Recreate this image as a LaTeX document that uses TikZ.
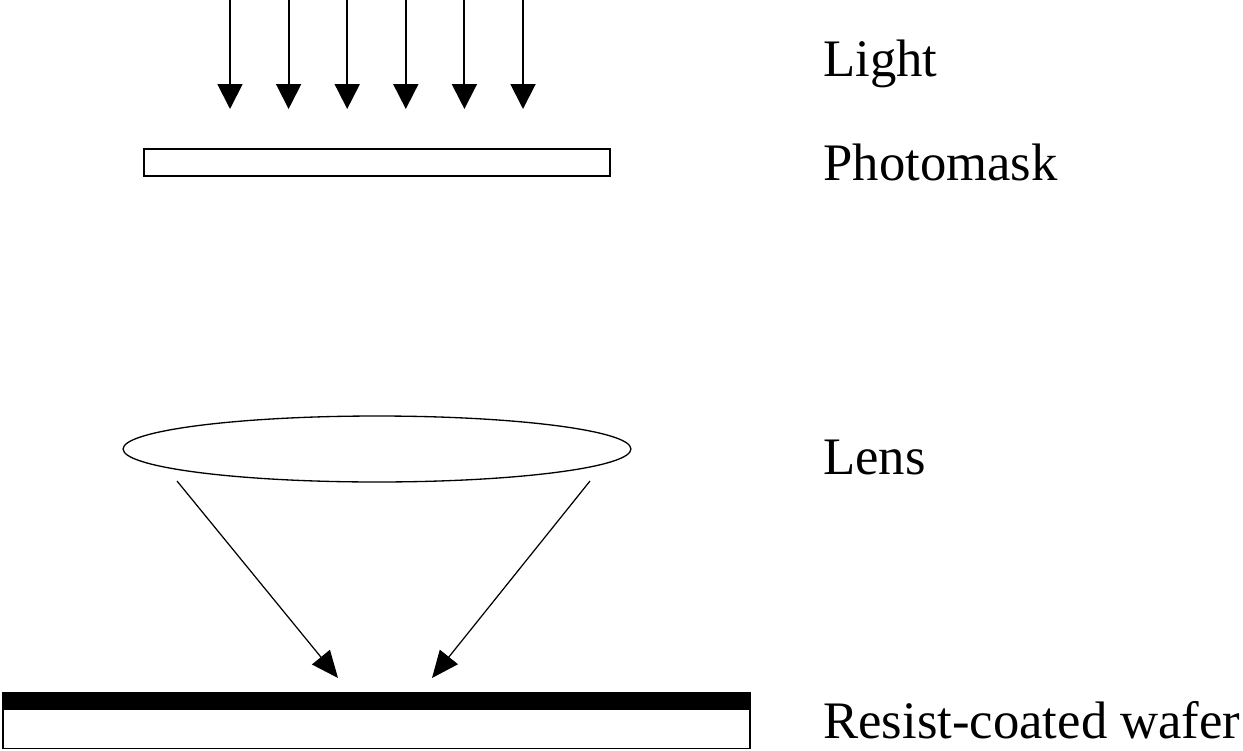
\documentclass[tikz,border=0pt]{standalone}
\usepackage{fontspec}
\setmainfont{Liberation Serif}
\usetikzlibrary{positioning, shapes.geometric, arrows.meta}

\begin{document}
\begin{tikzpicture}[
        x=0.02cm, y=-0.02cm,
        label/.style={anchor=base west, inner sep=0pt, font=\fontsize{30}{36}\selectfont},
        lightarrow/.style={line width=1.1pt, -{Triangle[length=0.5cm, width=0.5cm]}},
        focusarrow/.style={line width=0.7pt, -{Triangle[length=0.54cm, width=0.46cm]}},
        plate/.style={draw, line width=0.8pt, rectangle, inner sep=0pt}
    ]
    \useasboundingbox (0,0) rectangle (1243,750);
    % incoming light
    \foreach \i in {0,...,5} {
        \coordinate (l\i) at (230+58.6*\i, 0);
        \coordinate (m\i) at (230+58.6*\i, 109);
        \draw[lightarrow] (l\i) -- (m\i);
    }
    \node[plate, minimum width=9.32cm, minimum height=0.54cm] (mask) at (377,162.5) {};
    % lens
    \node[draw, ellipse, line width=0.75pt, inner sep=0pt, minimum width=10.16cm, minimum height=1.32cm] (lens) at (377,449) {};
    \coordinate (lensL) at (177,481);
    \coordinate (lensR) at (590,481);
    \coordinate (spotL) at (338,678);
    \coordinate (spotR) at (432,678);
    \draw[focusarrow] (lensL) -- (spotL);
    \draw[focusarrow] (lensR) -- (spotR);
    % wafer
    \node[plate, fill=black, minimum width=14.94cm, minimum height=0.3cm] (resist) at (376.5,700.5) {};
    \node[plate, minimum width=14.94cm, minimum height=0.78cm, below=0pt of resist] (wafer) {};
    % labels
    \node[label] (tLight) at (823,76) {Light};
    \node[label] (tMask) at (823,180) {Photomask};
    \node[label] (tLens) at (823,474) {Lens};
    \node[label] (tWafer) at (823,738) {Resist-coated wafer};
\end{tikzpicture}
\end{document}
